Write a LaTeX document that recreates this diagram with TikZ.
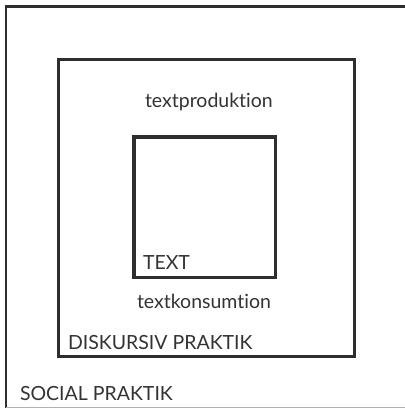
\documentclass[tikz,border=0pt]{standalone}
\usepackage{fontspec}
\setmainfont{Lato}[Ligatures={NoCommon,NoRequired}]
\begin{document}
\begin{tikzpicture}[x=1pt,y=-1pt,
  box/.style={draw=black!82,line width=3.2pt,inner sep=0pt,outer sep=0pt},
  lbl/.style={inner sep=0pt,outer sep=0pt,anchor=base west,text=black!80,font=\fontsize{19.5}{19.5}\selectfont}]
\useasboundingbox (0,0) rectangle (404,409);
\fill[white] (0,0) rectangle (404,409);
% outer frame
\draw[black!82,line width=2.5pt] (406,6.5) -- (6,6.5) -- (6,407.5);
\draw[black!30,line width=1pt] (6,407.5) -- (406,407.5);
% middle and inner boxes
\node[box,minimum width=296pt,minimum height=297pt] (diskurs) at (206.5,208) {};
\node[box,minimum width=141.5pt,minimum height=140.5pt] (text) at (204.75,207.25) {};
% labels
\node[lbl] (prod) at (145,107) {textproduktion};
\node[lbl] (textlbl) at (143,269) {TEXT};
\node[lbl] (kons) at (137,308) {textkonsumtion};
\node[lbl] (disk) at (68,349) {DISKURSIV PRAKTIK};
\node[lbl] (soc) at (20,400) {SOCIAL PRAKTIK};
\end{tikzpicture}
\end{document}
